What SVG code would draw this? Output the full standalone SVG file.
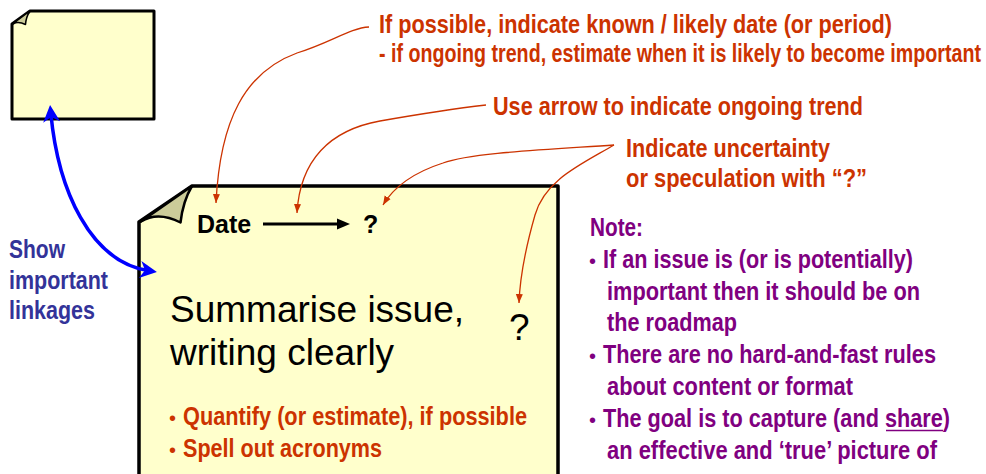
<svg xmlns="http://www.w3.org/2000/svg" width="986" height="474" viewBox="0 0 986 474">
  <style>
    .note { fill: #ffffcc; stroke: #000; stroke-linejoin: round; }
    .flap { fill: #cccc99; stroke: #000; stroke-linejoin: round; }
    .narrow { font-family: "Liberation Sans Narrow", "Liberation Sans", Arial, sans-serif; font-weight: bold; font-size: 26px; }
    .orange { fill: #cc3300; }
    .purple { fill: #800080; }
    .navy { fill: #333399; }
    .sans { font-family: "Liberation Sans", Arial, sans-serif; }
    .bullet { font-family: "Liberation Sans", Arial, sans-serif; font-size: 20px; }
    .callout { fill: none; stroke: #cc3300; stroke-width: 1.3; marker-end: url(#tip-orange); }
  </style>
  <defs>
    <marker id="tip-orange" markerUnits="userSpaceOnUse" markerWidth="12" markerHeight="10" refX="9" refY="0" viewBox="0 -5 12 10" orient="auto">
      <path d="M0,-3.5 L9,0 L0,3.5 Z" fill="#cc3300"/>
    </marker>
    <marker id="tip-blue" markerUnits="userSpaceOnUse" markerWidth="20" markerHeight="20" refX="0" refY="0" viewBox="-10 -10 20 20" orient="auto-start-reverse">
      <path d="M8,0 L-9,-8.5 L-4,0 L-9,8.5 Z" fill="#0000ff"/>
    </marker>
  </defs>

  <!-- linked issue note (top left) -->
  <g id="note-linked">
    <path class="note" stroke-width="3" d="M30,11 H154 V119 H12 V24 Z"/>
    <path class="flap" stroke-width="1.5" d="M30,11 L12.5,24 Q18,21 25.5,24.5 Q26,17 30,11 Z"/>
  </g>

  <!-- main issue note -->
  <g id="note-issue">
    <path class="note" stroke-width="3.5" d="M192,186 H558 V490 H139 V222 Z"/>
    <path class="flap" stroke-width="2.5" d="M192,186 L141,221.5 Q158,211 180.5,222.5 Q183,201 192,186 Z"/>
    <text class="sans" x="197" y="233" font-size="25" font-weight="bold">Date</text>
    <line x1="263" y1="224" x2="340" y2="224" stroke="#000" stroke-width="3"/>
    <polygon points="350,224 337,218.5 337,229.5" fill="#000"/>
    <text class="sans" x="363" y="233" font-size="25" font-weight="bold">?</text>
    <text class="sans" x="170" y="322" font-size="37">Summarise issue,</text>
    <text class="sans" x="170" y="365" font-size="37">writing clearly</text>
    <text class="sans" x="509" y="340" font-size="37">?</text>
    <text class="bullet orange" x="169" y="425">•</text>
    <text class="narrow orange" x="183" y="425" textLength="344" lengthAdjust="spacingAndGlyphs">Quantify (or estimate), if possible</text>
    <text class="bullet orange" x="169" y="457">•</text>
    <text class="narrow orange" x="183" y="457" textLength="199" lengthAdjust="spacingAndGlyphs">Spell out acronyms</text>
  </g>

  <!-- guidance labels -->
  <g id="label-date">
    <text class="narrow orange" x="379" y="33" textLength="513" lengthAdjust="spacingAndGlyphs">If possible, indicate known / likely date (or period)</text>
    <text class="narrow orange" x="379" y="62" font-size="24" textLength="602" lengthAdjust="spacingAndGlyphs">- if ongoing trend, estimate when it is likely to become important</text>
  </g>
  <g id="label-trend">
    <text class="narrow orange" x="493" y="115" textLength="370" lengthAdjust="spacingAndGlyphs">Use arrow to indicate ongoing trend</text>
  </g>
  <g id="label-uncertainty">
    <text class="narrow orange" x="626" y="157" textLength="204" lengthAdjust="spacingAndGlyphs">Indicate uncertainty</text>
    <text class="narrow orange" x="626" y="187" textLength="241" lengthAdjust="spacingAndGlyphs">or speculation with “?”</text>
  </g>
  <g id="label-linkages">
    <text class="narrow navy" x="9" y="258" textLength="56" lengthAdjust="spacingAndGlyphs">Show</text>
    <text class="narrow navy" x="9" y="289" textLength="99" lengthAdjust="spacingAndGlyphs">important</text>
    <text class="narrow navy" x="9" y="319" textLength="86" lengthAdjust="spacingAndGlyphs">linkages</text>
  </g>
  <g id="label-note">
    <text class="narrow purple" x="590" y="236" textLength="53" lengthAdjust="spacingAndGlyphs">Note:</text>
    <text class="bullet purple" x="589" y="268">•</text>
    <text class="narrow purple" x="603" y="268" textLength="310" lengthAdjust="spacingAndGlyphs">If an issue is (or is potentially)</text>
    <text class="narrow purple" x="607" y="300" textLength="313" lengthAdjust="spacingAndGlyphs">important then it should be on</text>
    <text class="narrow purple" x="607" y="331" textLength="130" lengthAdjust="spacingAndGlyphs">the roadmap</text>
    <text class="bullet purple" x="589" y="363">•</text>
    <text class="narrow purple" x="603" y="363" textLength="333" lengthAdjust="spacingAndGlyphs">There are no hard-and-fast rules</text>
    <text class="narrow purple" x="607" y="395" textLength="246" lengthAdjust="spacingAndGlyphs">about content or format</text>
    <text class="bullet purple" x="589" y="427">•</text>
    <text class="narrow purple" x="603" y="427" textLength="347" lengthAdjust="spacingAndGlyphs">The goal is to capture (and share)</text>
    <line x1="886" y1="430.5" x2="943" y2="430.5" stroke="#800080" stroke-width="1.6"/>
    <text class="narrow purple" x="607" y="459" textLength="330" lengthAdjust="spacingAndGlyphs">an effective and ‘true’ picture of</text>
  </g>

  <!-- connectors -->
  <g id="connectors">
    <path class="callout" d="M369,27 C350,28 330,43 297,53 C245,72 220,120 216,203"/>
    <path class="callout" d="M486,105 C460,108 420,114 380,121 C330,130 300,160 297,213"/>
    <path class="callout" d="M614,145 C540,150 470,153 443,163 C415,172 395,185 383,205"/>
    <path class="callout" d="M614,145 C580,165 545,180 535,215 C525,250 520,275 519,303"/>
    <path d="M50.8,113 C58,190 90,262 149,270.8" fill="none" stroke="#0000ff" stroke-width="3.5" marker-start="url(#tip-blue)" marker-end="url(#tip-blue)"/>
  </g>
</svg>
